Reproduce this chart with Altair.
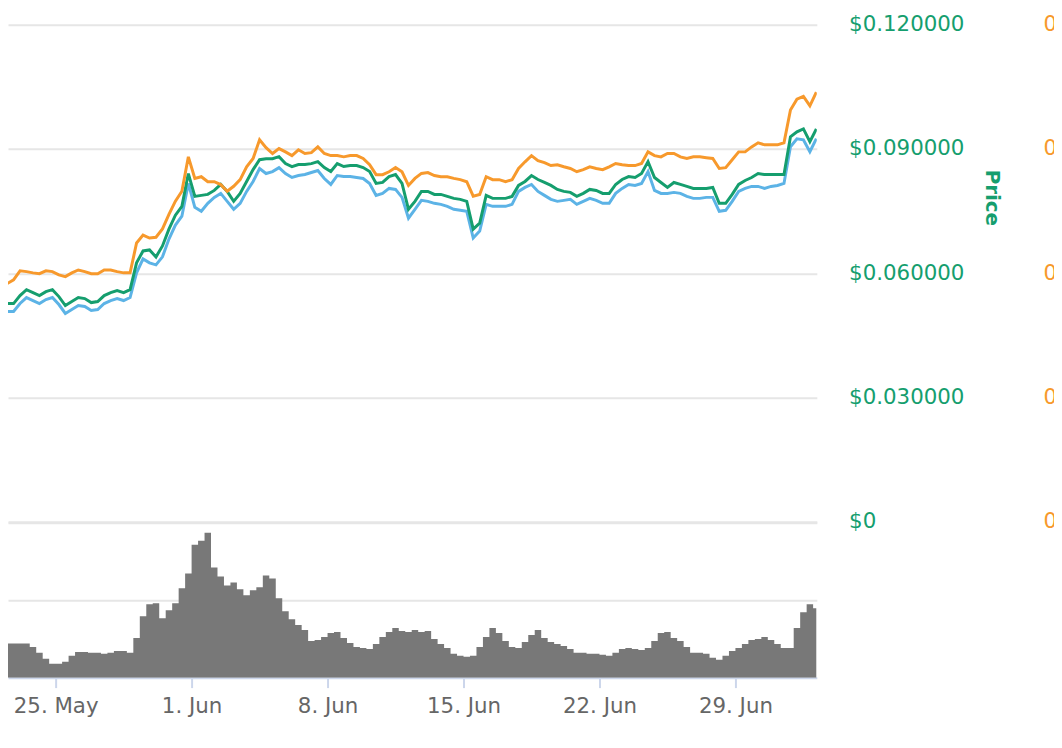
import altair as alt
import pandas as pd

# 8-hourly samples starting 2020-05-22 12:00
start = "2020-05-22 12:00"
step = "8h"

# BTC price (satoshi)
btc_sat = [575, 584, 606, 604, 601, 599, 606, 604, 596, 592,
           601, 608, 604, 599, 599, 608, 608, 604, 601, 601,
           673, 692, 685, 687, 707, 742, 774, 798, 881, 829,
           833, 821, 821, 814, 798, 810, 826, 857, 877, 922,
           903, 889, 901, 893, 884, 898, 889, 891, 905, 889,
           884, 884, 881, 884, 884, 877, 862, 838, 838, 845,
           855, 845, 812, 829, 841, 843, 836, 833, 833, 829,
           826, 821, 786, 790, 833, 826, 826, 821, 826, 853,
           869, 884, 872, 867, 860, 862, 857, 853, 845, 850,
           857, 853, 850, 857, 865, 862, 860, 860, 865, 893,
           884, 881, 889, 889, 881, 877, 881, 881, 879, 877,
           853, 855, 874, 893, 893, 905, 915, 910, 910, 910,
           915, 994, 1020, 1027, 1004, 1037]

# USD price
usd_price = [0.05269, 0.05269, 0.05461, 0.05605, 0.05533, 0.05461, 0.05557, 0.05605, 0.05437, 0.05222,
             0.05317, 0.05413, 0.05389, 0.05293, 0.05317, 0.05461, 0.05533, 0.05581, 0.05533, 0.05605,
             0.06251, 0.06539, 0.06563, 0.06395, 0.06659, 0.07066, 0.07401, 0.07617, 0.08407, 0.07856,
             0.07880, 0.07904, 0.08000, 0.08144, 0.07976, 0.07736, 0.07928, 0.08216, 0.08503, 0.08742,
             0.08766, 0.08766, 0.08814, 0.08647, 0.08575, 0.08623, 0.08623, 0.08647, 0.08695, 0.08551,
             0.08455, 0.08647, 0.08575, 0.08599, 0.08599, 0.08551, 0.08455, 0.08168, 0.08192, 0.08335,
             0.08383, 0.08168, 0.07545, 0.07736, 0.07976, 0.07976, 0.07904, 0.07904, 0.07856, 0.07808,
             0.07784, 0.07736, 0.07066, 0.07210, 0.07880, 0.07808, 0.07808, 0.07808, 0.07856, 0.08120,
             0.08216, 0.08359, 0.08263, 0.08192, 0.08120, 0.08024, 0.07976, 0.07952, 0.07856, 0.07928,
             0.08024, 0.08000, 0.07928, 0.07928, 0.08144, 0.08263, 0.08335, 0.08311, 0.08407, 0.08695,
             0.08311, 0.08192, 0.08072, 0.08192, 0.08144, 0.08096, 0.08048, 0.08048, 0.08048, 0.08072,
             0.07689, 0.07689, 0.07904, 0.08144, 0.08240, 0.08311, 0.08407, 0.08383, 0.08383, 0.08383,
             0.08383, 0.09293, 0.09413, 0.09485, 0.09174, 0.09485]

# Market cap (million USD)
market_cap = [25.39, 25.39, 26.35, 27.07, 26.71, 26.35, 26.83, 27.07, 26.23, 25.15,
              25.63, 26.11, 25.99, 25.51, 25.63, 26.35, 26.71, 26.95, 26.71, 27.07,
              30.06, 31.74, 31.26, 31.02, 31.98, 34.13, 35.81, 36.89, 40.84, 37.96,
              37.48, 38.44, 39.16, 39.64, 38.68, 37.72, 38.44, 39.88, 41.08, 42.63,
              42.04, 42.27, 42.75, 42.04, 41.56, 41.80, 41.92, 42.16, 42.40, 41.44,
              40.72, 41.80, 41.68, 41.68, 41.56, 41.44, 40.84, 39.40, 39.64, 40.24,
              40.12, 39.16, 36.65, 37.72, 38.80, 38.68, 38.44, 38.32, 38.08, 37.72,
              37.60, 37.48, 34.25, 35.09, 38.32, 38.08, 38.08, 38.08, 38.32, 39.88,
              40.36, 40.72, 39.88, 39.40, 38.92, 38.68, 38.80, 38.92, 38.32, 38.68,
              39.04, 38.80, 38.44, 38.44, 39.64, 40.24, 40.72, 40.60, 40.84, 42.27,
              40.00, 39.64, 39.64, 39.76, 39.64, 39.28, 39.04, 39.04, 39.16, 39.16,
              37.48, 37.60, 38.68, 39.88, 40.24, 40.48, 40.48, 40.24, 40.48, 40.60,
              40.84, 45.27, 46.23, 46.11, 44.67, 46.23]

# 24h volume (million USD)
volume = [4.41, 4.41, 4.41, 4.41, 3.97, 3.21, 2.44, 1.79, 1.79, 2.05,
          2.82, 3.33, 3.33, 3.21, 3.21, 3.08, 3.21, 3.46, 3.46, 3.21,
          5.13, 7.95, 9.49, 9.62, 7.69, 8.72, 9.62, 11.54, 13.46, 17.18,
          17.69, 18.72, 14.23, 13.08, 11.92, 12.31, 11.41, 10.64, 11.28, 11.67,
          13.21, 12.82, 10.26, 8.59, 7.56, 6.79, 6.15, 4.74, 4.87, 5.26,
          5.77, 5.90, 5.13, 4.49, 3.97, 3.85, 3.72, 4.36, 5.26, 5.90,
          6.41, 6.03, 5.90, 6.15, 5.90, 6.03, 5.00, 4.36, 3.85, 3.08,
          2.82, 2.69, 2.82, 3.97, 5.26, 6.41, 5.77, 4.74, 3.97, 3.85,
          4.62, 5.51, 6.15, 5.13, 4.62, 4.36, 4.10, 3.72, 3.21, 3.21,
          3.08, 3.08, 2.95, 2.82, 3.21, 3.72, 3.85, 3.72, 3.59, 3.85,
          4.74, 5.77, 5.90, 5.13, 4.74, 3.97, 3.21, 3.21, 3.08, 2.56,
          2.31, 2.82, 3.46, 3.85, 4.36, 4.87, 5.00, 5.26, 4.87, 4.36,
          3.85, 3.85, 6.41, 8.46, 9.49, 8.97]

usd_ticks = [0, 0.03, 0.06, 0.09, 0.12]
btc_ticks = [0, 300, 600, 900, 1200]
vol_grid = [10, 20]
tick_days = [(5, 25), (6, 1), (6, 8), (6, 15), (6, 22), (6, 29)]

times = pd.date_range(start, periods=len(usd_price), freq=step)
df = pd.DataFrame({"t": times, "mcap": market_cap, "usd": usd_price,
                   "btc": btc_sat, "vol": volume})

FONT = "DejaVu Sans"
GREEN = "#159e6e"
ORANGE = "#f7992c"
BLUE = "#5cb3e6"

xaxis = alt.Axis(
    values=[alt.DateTime(year=2020, month=m, date=d) for m, d in tick_days],
    format="%-d. %b", grid=False, title=None,
    domainColor="#ccd6eb", domainWidth=2, tickColor="#ccd6eb", tickWidth=2,
    tickSize=10, labelColor="#666666", labelFont=FONT, labelFontSize=21.5,
    labelPadding=8, labelBaseline="top", labelFlush=False)
xenc = alt.X("t:T", axis=xaxis, scale=alt.Scale(domain=[
    alt.DateTime(year=2020, month=5, date=22, hours=13, minutes=8),
    alt.DateTime(year=2020, month=7, date=3, hours=4, minutes=34)]))

base = alt.Chart(df)

vol = base.mark_area(color="#787878", interpolate="step", clip=True).encode(
    x=xenc,
    y=alt.Y("vol:Q", scale=alt.Scale(domain=[0, 84.36], nice=False),
            axis=alt.Axis(orient="left", values=vol_grid, labels=False, ticks=False,
                          domain=False, grid=True, gridColor="#e6e6e6", gridWidth=2,
                          title=None)))

blue = base.mark_line(color=BLUE, strokeWidth=3, clip=True).encode(
    x=xenc,
    y=alt.Y("mcap:Q", scale=alt.Scale(domain=[-18.8, 60], nice=False, zero=False), axis=None))

green = base.mark_line(color=GREEN, strokeWidth=3, clip=True).encode(
    x=xenc,
    y=alt.Y("usd:Q", scale=alt.Scale(domain=[-0.0376, 0.12], nice=False, zero=False),
            axis=alt.Axis(orient="right", values=usd_ticks,
                          labelExpr="datum.value == 0 ? '$0' : '$' + format(datum.value, '.6f')",
                          labelColor=GREEN, labelFont=FONT, labelFontSize=21.5,
                          labelPadding=32, labelBaseline="middle", labelAlign="left",
                          ticks=False, domain=False, grid=True, gridColor="#e6e6e6",
                          gridWidth=2, title="Price", titleColor=GREEN, titleFont=FONT,
                          titleFontSize=20, titleFontWeight="bold", titleAngle=90,
                          titleX=176, titleY=174, titleAlign="center",
                          titleBaseline="middle")))

orange = base.mark_line(color=ORANGE, strokeWidth=3, clip=True).encode(
    x=xenc,
    y=alt.Y("btc:Q", scale=alt.Scale(domain=[-376, 1200], nice=False, zero=False),
            axis=alt.Axis(orient="right", values=btc_ticks,
                          labelExpr="datum.value == 0 ? '0 BTC' : format(datum.value / 100000000, '.8f') + ' BTC'",
                          labelColor=ORANGE, labelFont=FONT, labelFontSize=21.5,
                          labelPadding=228, labelBaseline="middle", labelAlign="left",
                          ticks=False, domain=False, grid=False, title=None)))

chart = alt.layer(vol, blue, green, orange).resolve_scale(y="independent").properties(
    width=815, height=658,
    autosize=alt.AutoSizeParams(type="none"),
    padding={"left": 0, "top": 14, "right": 239, "bottom": 60},
).configure(background="white", view=alt.ViewConfig(stroke=None))

chart.save("out.html", embed_options={"renderer": "svg", "actions": False})
